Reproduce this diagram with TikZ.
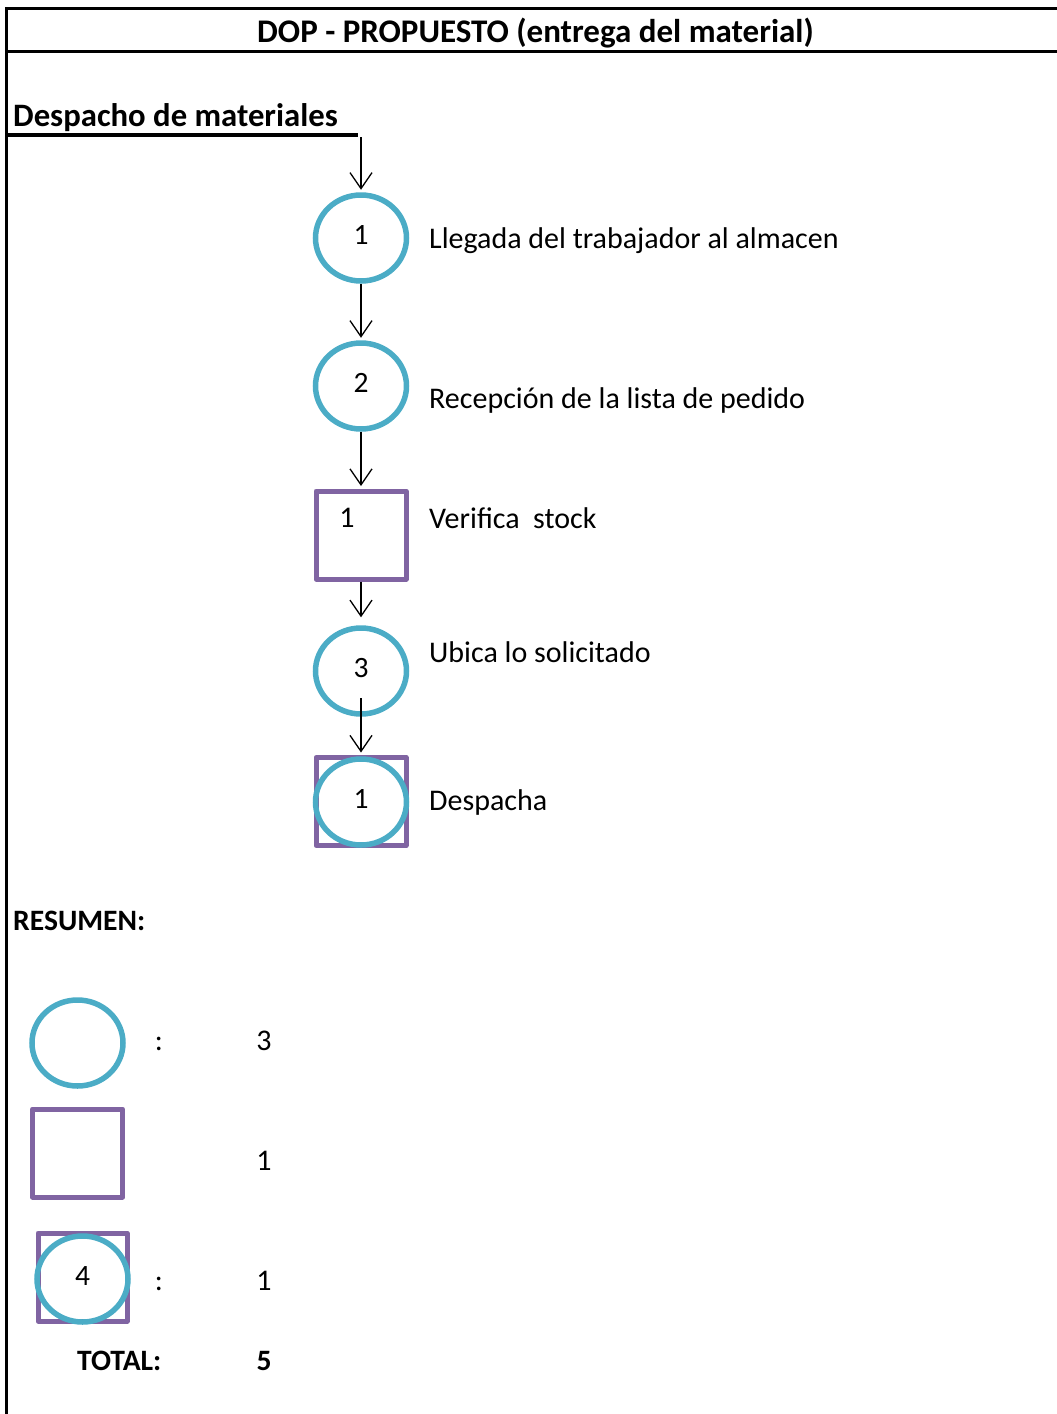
\documentclass[tikz,border=0pt]{standalone}
\usepackage{fontspec}
\setmainfont{Carlito}
\usetikzlibrary{shapes.geometric,arrows.meta}
\definecolor{opaqua}{HTML}{4BACC6}
\definecolor{insppurple}{HTML}{8064A2}
\tikzset{
  operacion/.style={draw=opaqua, line width=5.5pt, ellipse, minimum width=91pt, minimum height=86pt, inner sep=0pt, text depth=6pt, font=\fontsize{29.5}{34}\selectfont},
  inspeccion/.style={draw=insppurple, line width=5pt, line join=round, rectangle, minimum width=90pt, minimum height=88pt, inner sep=0pt},
  flujo/.style={line width=1.3pt, shorten >=2.5pt, -{Straight Barb[length=16pt,width=22pt]}},
  texto/.style={anchor=base west, inner sep=0pt, font=\fontsize{30}{34}\selectfont},
  negrita/.style={anchor=base west, inner sep=0pt, font=\bfseries\fontsize{29.6}{34}\selectfont},
  titulo/.style={anchor=base west, inner sep=0pt, font=\bfseries\fontsize{33}{38}\selectfont},
  marco/.style={line width=3pt}
}
\begin{document}
\begin{tikzpicture}[x=1pt, y=-1pt]
            \useasboundingbox (0,0) rectangle (1057,1414);

            \draw[marco] (6,8.5) -- (1057,8.5);

            \draw[marco, line width=3.5pt] (6,51.5) -- (1057,51.5);

            \draw[marco] (6.5,7) -- (6.5,1414);

            \node[titulo, anchor=base] (titulo) at (535.5,42) {DOP - PROPUESTO (entrega del material)};

            \node[titulo, font=\bfseries\fontsize{32.7}{38}\selectfont] (despacho) at (13,126) {Despacho de materiales};

            \draw[line width=4pt] (6,135) -- (358,135);

            \coordinate (inicio) at (361,137);

            \node[operacion] (o1) at (361,238) {1};
            \node[operacion] (o2) at (361,386) {2};
            \node[inspeccion] (v1) at (361,535) {};
            \node[texto, anchor=center] (v1num) at (347,518) {1};
            \node[operacion] (o3) at (361,671) {3};
            \node[inspeccion] (c1sq) at (361,801.5) {};
            \node[operacion] (c1) at (361,802) {1};

            \draw[flujo] (inicio) -- (o1);
            \draw[flujo] (o1) -- (o2);
            \draw[flujo] (o2) -- (v1);
            \draw[flujo, shorten >=8pt] (v1) -- (o3);
            \draw[flujo] ([yshift=-27pt]o3.center) -- (c1sq.north);

            \node[texto] (t1) at (429,248) {Llegada del trabajador al almacen};
            \node[texto] (t2) at (429,408) {Recepción de la lista de pedido};
            \node[texto] (t3) at (429,528) {Verifica\ \ stock};
            \node[texto] (t4) at (429,662) {Ubica lo solicitado};
            \node[texto] (t5) at (429,810) {Despacha};

            \node[negrita] (resumen) at (13,930) {RESUMEN:};

            \node[operacion] (lo) at (77.5,1043) {};
            \node[inspeccion] (lv) at (77.5,1153) {};
            \node[inspeccion, minimum width=89pt, minimum height=88pt] (lcsq) at (82.5,1277) {};
            \node[operacion] (lc) at (82.5,1279) {4};

            \node[texto, anchor=base] (dp1) at (159,1050) {:};
            \node[texto, anchor=base] (n1) at (264,1050) {3};
            \node[texto, anchor=base] (n2) at (264,1170) {1};
            \node[texto, anchor=base] (dp3) at (159,1290) {:};
            \node[texto, anchor=base] (n3) at (264,1290) {1};

            \node[negrita] (total) at (77,1370) {TOTAL:};
            \node[negrita, anchor=base] (ntotal) at (264,1370) {5};
\end{tikzpicture}
\end{document}
